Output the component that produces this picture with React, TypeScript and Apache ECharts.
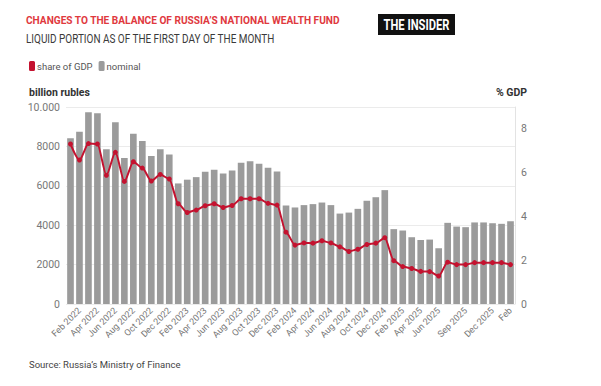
import React, { useEffect, useRef } from "react";
import * as echarts from "echarts";

const months: string[] = [
  "Jan 2022", "Feb 2022", "Mar 2022", "Apr 2022", "May 2022", "Jun 2022", "Jul 2022", "Aug 2022", "Sep 2022", "Oct 2022", "Nov 2022", "Dec 2022",
  "Jan 2023", "Feb 2023", "Mar 2023", "Apr 2023", "May 2023", "Jun 2023", "Jul 2023", "Aug 2023", "Sep 2023", "Oct 2023", "Nov 2023", "Dec 2023",
  "Jan 2024", "Feb 2024", "Mar 2024", "Apr 2024", "May 2024", "Jun 2024", "Jul 2024", "Aug 2024", "Sep 2024", "Oct 2024", "Nov 2024", "Dec 2024",
  "Jan 2025", "Feb 2025", "Mar 2025", "Apr 2025", "May 2025", "Jun 2025", "Jul 2025", "Aug 2025", "Sep 2025", "Oct 2025", "Nov 2025", "Dec 2025",
  "Jan 2026", "Feb",
];

// indices of months that carry a visible tick label
const labelledMonths: number[] = [
  1, 3, 5, 7, 9, 11, 13, 15, 17, 19, 21, 23, 25, 27, 29, 31, 33, 35, 37, 39, 41, 44, 47, 49,
];

// nominal, billion rubles
const nominal: number[] = [
  8420, 8750, 9730, 9680, 7860, 9220, 7410, 8640, 8270, 7510, 7860, 7590,
  6120, 6310, 6440, 6710, 6810, 6630, 6780, 7170, 7240, 7120, 6920, 6730,
  5000, 4900, 5020, 5070, 5150, 5020, 4590, 4640, 4830, 5240, 5420, 5780,
  3800, 3730, 3390, 3250, 3270, 2830, 4120, 3930, 3900, 4140, 4140, 4100,
  4070, 4200,
];

// share of GDP, %
const shareGdp: number[] = [
  7.31, 6.58, 7.33, 7.31, 5.88, 6.93, 5.6, 6.5, 6.21, 5.62, 5.92, 5.71,
  4.58, 4.18, 4.29, 4.49, 4.58, 4.41, 4.5, 4.81, 4.81, 4.81, 4.6, 4.52,
  3.28, 2.69, 2.79, 2.78, 2.89, 2.79, 2.61, 2.4, 2.5, 2.72, 2.78, 3.03,
  1.98, 1.71, 1.62, 1.49, 1.48, 1.28, 1.91, 1.8, 1.8, 1.89, 1.89, 1.89,
  1.89, 1.8,
];

const leftTicks = { min: 0, max: 10000, interval: 2000 };
const rightTicks = { min: 0, max: 9, interval: 2 };

const RED = "#c4122f";
const GRAY = "#9b9b9b";
const SANS = '"Roboto", "Noto Sans", sans-serif';

export default function App() {
  const ref = useRef<HTMLDivElement>(null);

  useEffect(() => {
    if (!ref.current) return;
    const chart = echarts.init(ref.current, null, { renderer: "svg" });
    chart.setOption({
      animation: false,
      backgroundColor: "#ffffff",
      textStyle: { fontFamily: SANS },
      legend: {
        left: 24,
        top: 56,
        icon: "roundRect",
        itemWidth: 6,
        itemHeight: 10,
        itemGap: 6,
        textStyle: { fontSize: 9.5, color: "#555", fontFamily: SANS, padding: [0, 0, 0, -3] },
        data: [
          { name: "share of GDP", itemStyle: { color: RED } },
          { name: "nominal", itemStyle: { color: GRAY } },
        ],
      },
      graphic: [
        {
          type: "text",
          x: 26,
          y: 14,
          scaleX: 0.88,
          style: {
            text: "CHANGES TO THE BALANCE OF RUSSIA\u2019S NATIONAL WEALTH FUND",
            fill: "#e0393e",
            font: `bold 11.5px ${SANS}`,
            verticalAlign: "top",
          },
        },
        {
          type: "text",
          x: 26,
          y: 33,
          scaleX: 0.83,
          style: {
            text: "LIQUID PORTION AS OF THE FIRST DAY OF THE MONTH",
            fill: "#3a3a3a",
            font: `12px ${SANS}`,
            verticalAlign: "top",
          },
        },
        {
          type: "group",
          x: 378,
          y: 14,
          children: [
            { type: "rect", shape: { x: 0, y: 0, width: 77, height: 21 }, style: { fill: "#111" } },
            {
              type: "text",
              x: 38.5,
              y: 11,
              scaleX: 0.8,
              style: {
                text: "THE INSIDER",
                fill: "#fff",
                font: `bold 14px ${SANS}`,
                align: "center",
                verticalAlign: "middle",
              },
            },
          ],
        },
        {
          type: "text",
          left: 29,
          top: 87,
          style: { text: "billion rubles", fill: "#333", font: `bold 10.5px ${SANS}` },
        },
        {
          type: "text",
          left: 496,
          top: 87,
          style: { text: "% GDP", fill: "#333", font: `bold 10.5px ${SANS}` },
        },
        {
          type: "text",
          left: 29,
          top: 359,
          style: { text: "Source: Russia\u2019s Ministry of Finance", fill: "#444", font: `9.5px ${SANS}` },
        },
      ],
      grid: { left: 66, right: 86, top: 107, bottom: 82, containLabel: false },
      xAxis: {
        type: "category",
        data: months,
        boundaryGap: true,
        axisLine: { show: false },
        axisTick: { show: false },
        axisLabel: {
          interval: (index: number) => labelledMonths.includes(index),
          rotate: 45,
          fontSize: 9,
          color: "#777",
          margin: 5,
        },
      },
      yAxis: [
        {
          type: "value",
          min: leftTicks.min,
          max: leftTicks.max,
          interval: leftTicks.interval,
          axisLine: { show: false },
          axisTick: { show: false },
          axisLabel: {
            fontSize: 10.5,
            color: "#777",
            margin: 6,
            formatter: (v: number) => (v === 10000 ? "10.000" : String(v)),
          },
          splitLine: { lineStyle: { color: "#ebebeb", width: 1 } },
        },
        {
          type: "value",
          position: "right",
          min: rightTicks.min,
          max: rightTicks.max,
          interval: rightTicks.interval,
          axisLine: { show: true, lineStyle: { color: "#e3e3e3" } },
          axisTick: { show: false },
          axisLabel: { fontSize: 10.5, color: "#777", margin: 6, showMaxLabel: false },
          splitLine: { show: false },
        },
      ],
      series: [
        {
          name: "nominal",
          type: "bar",
          yAxisIndex: 0,
          data: nominal,
          barCategoryGap: "26%",
          itemStyle: { color: GRAY },
        },
        {
          name: "share of GDP",
          type: "line",
          yAxisIndex: 1,
          data: shareGdp,
          smooth: 0.25,
          smoothMonotone: "x",
          symbol: "circle",
          symbolSize: 5,
          itemStyle: { color: RED },
          lineStyle: { color: RED, width: 2 },
        },
      ],
    });
    return () => chart.dispose();
  }, []);

  return <div ref={ref} style={{ width: 601, height: 386, margin: -8 }} />;
}
